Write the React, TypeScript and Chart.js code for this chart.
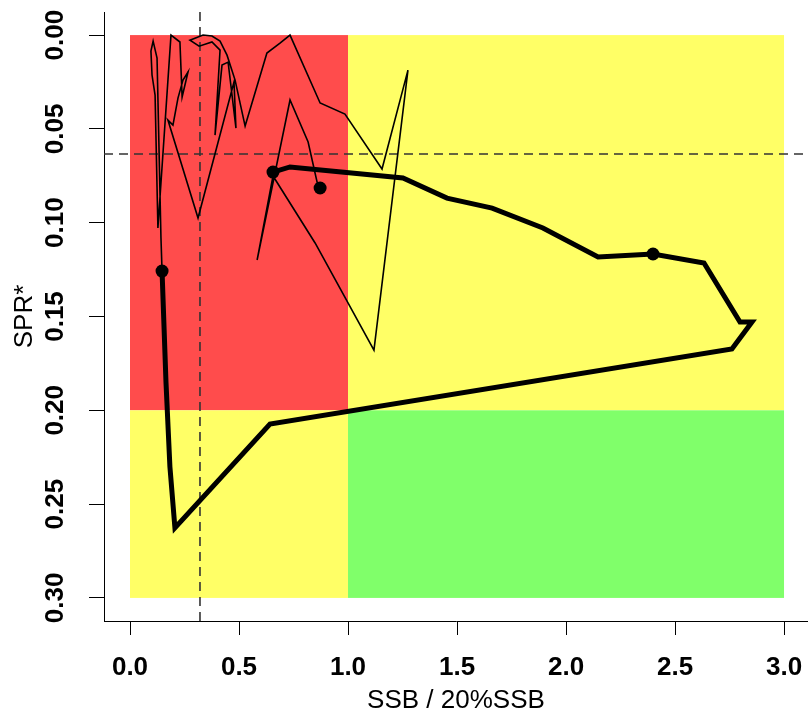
import React, { useEffect, useRef } from "react";
import { Chart, registerables } from "chart.js";
Chart.register(...registerables);

// ---- data ----
const xTickValues = [0, 0.5, 1, 1.5, 2, 2.5, 3];
const xTickLabels = ["0.0", "0.5", "1.0", "1.5", "2.0", "2.5", "3.0"];
const yTickValues = [0, 0.05, 0.1, 0.15, 0.2, 0.25, 0.3];
const yTickLabels = ["0.00", "0.05", "0.10", "0.15", "0.20", "0.25", "0.30"];

// thin trajectory (earlier years)
const thinX = [0.147, 0.142, 0.124, 0.106, 0.096, 0.101, 0.115, 0.128, 0.188, 0.229, 0.239, 0.266, 0.243, 0.220, 0.197, 0.174, 0.312, 0.477, 0.486, 0.450, 0.422, 0.390, 0.413, 0.376, 0.317, 0.275, 0.335, 0.376, 0.413, 0.445, 0.482, 0.528, 0.628, 0.688, 0.734, 0.872, 0.986, 1.156, 1.275, 1.119, 0.849, 0.656, 0.583, 0.734, 0.817, 0.858, 0.872];
const thinY = [0.1258, 0.1082, 0.0123, 0.0032, 0.0085, 0.0213, 0.0320, 0.1028, 0.0000, 0.0037, 0.0330, 0.0197, 0.0240, 0.0336, 0.0480, 0.0453, 0.0975, 0.0250, 0.0496, 0.0144, 0.0160, 0.0533, 0.0080, 0.0037, 0.0059, 0.0027, 0.0000, 0.0005, 0.0032, 0.0107, 0.0240, 0.0485, 0.0096, 0.0043, 0.0000, 0.0362, 0.0421, 0.0714, 0.0187, 0.1679, 0.1108, 0.0751, 0.1199, 0.0346, 0.0570, 0.0783, 0.0815];

// thick trajectory (recent years)
const thickX = [0.147, 0.165, 0.183, 0.206, 0.642, 2.761, 2.853, 2.798, 2.633, 2.399, 2.147, 1.894, 1.661, 1.454, 1.252, 0.734, 0.656];
const thickY = [0.1258, 0.1850, 0.2300, 0.2627, 0.2073, 0.1673, 0.1529, 0.1529, 0.1215, 0.1167, 0.1183, 0.1028, 0.0922, 0.0869, 0.0762, 0.0703, 0.0730];

// highlighted points
const dotX = [0.147, 0.656, 0.872, 2.399];
const dotY = [0.1258, 0.0730, 0.0815, 0.1167];

// background zones
const zoneX0 = [0, 1, 0, 1];
const zoneX1 = [1, 3, 1, 3];
const zoneY0 = [0, 0, 0.2, 0.2];
const zoneY1 = [0.2, 0.2, 0.3, 0.3];
const zoneColors = ["#FF4C4C", "#FFFF66", "#FFFF66", "#80FF6A"];

// reference lines
const refX = 0.321;
const refY = 0.0634;

const xTitle = "SSB / 20%SSB";
const yTitle = "SPR*";

const FONT = "'Liberation Sans', Arial, Helvetica, sans-serif";

const zip = (xs: number[], ys: number[]) => xs.map((x, i) => ({ x, y: ys[i] }));

const bgPlugin = {
  id: "bgZones",
  beforeDatasetsDraw(chart: any) {
    const { ctx, chartArea, scales } = chart;
    const xs = scales.x;
    const ys = scales.y;
    ctx.save();
    ctx.beginPath();
    ctx.rect(chartArea.left, chartArea.top, chartArea.right - chartArea.left, chartArea.bottom - chartArea.top);
    ctx.clip();
    for (let i = 0; i < zoneColors.length; i++) {
      const l = xs.getPixelForValue(zoneX0[i]);
      const r = xs.getPixelForValue(zoneX1[i]);
      const t = ys.getPixelForValue(zoneY0[i]);
      const b = ys.getPixelForValue(zoneY1[i]);
      ctx.fillStyle = zoneColors[i];
      ctx.fillRect(l, Math.min(t, b), r - l, Math.abs(b - t));
    }
    ctx.strokeStyle = "#333";
    ctx.lineWidth = 1.6;
    ctx.setLineDash([9, 6]);
    const px = xs.getPixelForValue(refX);
    ctx.beginPath();
    ctx.moveTo(px, chartArea.top);
    ctx.lineTo(px, chartArea.bottom);
    ctx.stroke();
    const py = ys.getPixelForValue(refY);
    ctx.beginPath();
    ctx.moveTo(chartArea.left, py);
    ctx.lineTo(chartArea.right, py);
    ctx.stroke();
    ctx.restore();
  },
};

const labelPlugin = {
  id: "axisLabels",
  afterDraw(chart: any) {
    const { ctx, chartArea, scales } = chart;
    ctx.save();
    ctx.fillStyle = "#000";
    ctx.textAlign = "center";
    ctx.textBaseline = "middle";
    ctx.font = `bold 26px ${FONT}`;
    xTickValues.forEach((v, i) => {
      ctx.fillText(xTickLabels[i], scales.x.getPixelForValue(v), 668);
    });
    yTickValues.forEach((v, i) => {
      ctx.save();
      ctx.translate(56, scales.y.getPixelForValue(v));
      ctx.rotate(-Math.PI / 2);
      ctx.fillText(yTickLabels[i], 0, 0);
      ctx.restore();
    });
    ctx.font = `26px ${FONT}`;
    ctx.fillText(xTitle, (chartArea.left + chartArea.right) / 2, 701);
    ctx.save();
    ctx.translate(25, (chartArea.top + chartArea.bottom) / 2);
    ctx.rotate(-Math.PI / 2);
    ctx.fillText(yTitle, 0, 0);
    ctx.restore();
    ctx.restore();
  },
};

export default function App() {
  const ref = useRef<HTMLCanvasElement | null>(null);
  useEffect(() => {
    if (!ref.current) return;
    const chart = new Chart(ref.current, {
      type: "scatter",
      data: {
        datasets: [
          {
            data: zip(thinX, thinY),
            showLine: true,
            borderColor: "#000",
            borderWidth: 1.6,
            pointRadius: 0,
            tension: 0,
          },
          {
            data: zip(thickX, thickY),
            showLine: true,
            borderColor: "#000",
            borderWidth: 5,
            pointRadius: 0,
            tension: 0,
          },
          {
            data: zip(dotX, dotY),
            showLine: false,
            pointRadius: 6.5,
            pointBackgroundColor: "#000",
            pointBorderColor: "#000",
            pointBorderWidth: 0,
          },
        ],
      },
      options: {
        animation: false,
        responsive: false,
        devicePixelRatio: 1,
        layout: { autoPadding: false, padding: { top: 12, left: 0, right: 0, bottom: 0 } },
        plugins: { legend: { display: false }, tooltip: { enabled: false } },
        scales: {
          x: {
            type: "linear",
            min: -0.1193,
            max: 3.11,
            grid: { display: true, drawOnChartArea: false, drawTicks: true, tickLength: 14, color: "#000", lineWidth: 1 },
            border: { display: true, color: "#000", width: 1 },
            ticks: { display: false },
            afterBuildTicks: (s: any) => {
              s.ticks = xTickValues.map((v) => ({ value: v }));
            },
            afterFit: (s: any) => {
              s.height = 96;
            },
          },
          y: {
            type: "linear",
            reverse: true,
            min: -0.0123,
            max: 0.3123,
            grid: { display: true, drawOnChartArea: false, drawTicks: true, tickLength: 15, color: "#000", lineWidth: 1 },
            border: { display: true, color: "#000", width: 1 },
            ticks: { display: false },
            afterBuildTicks: (s: any) => {
              s.ticks = yTickValues.map((v) => ({ value: v }));
            },
            afterFit: (s: any) => {
              s.width = 104;
            },
          },
        },
      },
      plugins: [bgPlugin, labelPlugin],
    });
    return () => chart.destroy();
  }, []);
  return (
    <div style={{ position: "absolute", left: 0, top: 0, width: 808, height: 717, background: "#fff", overflow: "hidden" }}>
      <canvas ref={ref} width={808} height={717} style={{ display: "block" }} />
    </div>
  );
}
